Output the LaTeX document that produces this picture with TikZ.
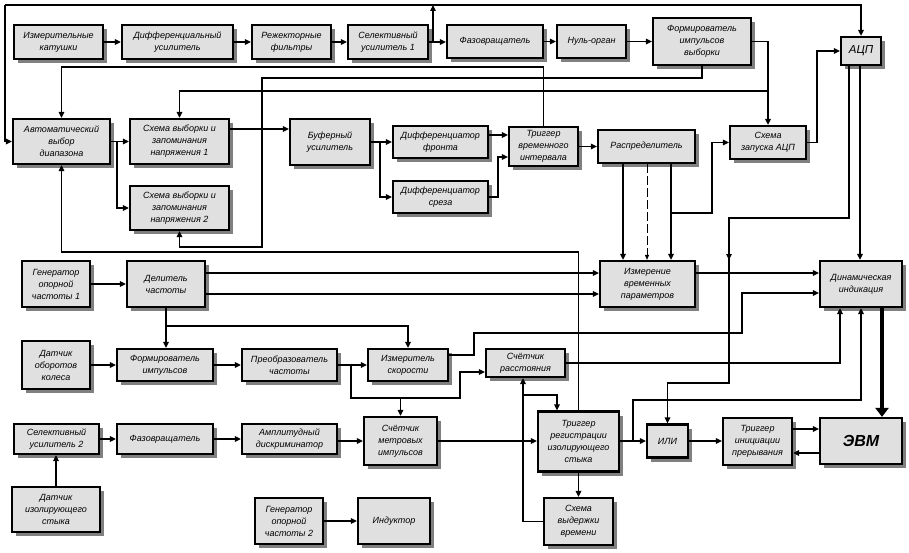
\documentclass[tikz,border=0pt]{standalone}
\usepackage{fontspec}
\setmainfont{Liberation Sans}
\usetikzlibrary{arrows.meta,shadows}
\definecolor{boxfill}{RGB}{224,224,224}
\definecolor{shadowc}{RGB}{128,128,128}
\tikzset{
 blk/.style={draw=black, line width=2.2pt, fill=boxfill, align=center, inner sep=1pt,
   font=\fontsize{9}{12}\selectfont\itshape,
   drop shadow={shadow xshift=4pt, shadow yshift=-4pt, fill=shadowc, opacity=1}},
 arr/.style={line width=1.6pt, -{Triangle[length=6pt,width=5.5pt]}},
 ln/.style={line width=1.6pt},
 dsh/.style={line width=1pt, dash pattern=on 9pt off 3pt, -{Triangle[length=5pt,width=4pt]}},
 thickarr/.style={line width=4pt, -{Triangle[length=9pt,width=13pt]}},
}
\newcommand\mybox[6]{\node[blk, minimum width=#4pt, minimum height=#5pt] (#1) at (#2,#3) {#6};}
\begin{document}
\begin{tikzpicture}[x=1pt,y=-1pt]
\fill[white] (0,0) rectangle (909,553);
\useasboundingbox (0,0) rectangle (909,553);
% row 1
\mybox{ik}{58.5}{42}{89}{34}{Измерительные\\катушки}
\mybox{du}{177.5}{42}{111}{34}{Дифференциальный\\усилитель}
\mybox{rf}{291.5}{42}{79}{34}{Режекторные\\фильтры}
\mybox{sua}{388}{42}{80}{34}{Селективный\\усилитель 1}
\mybox{fva}{495}{41.5}{96}{33}{Фазовращатель}
\mybox{no}{591.5}{41.5}{69}{33}{Нуль-орган}
\mybox{fiv}{702}{41.5}{98}{47}{Формирователь\\импульсов\\выборки}
\node[blk, font=\fontsize{11.5}{13}\selectfont\itshape, minimum width=40pt, minimum height=28pt] (adc) at (861,51) {АЦП};
% row 2
\mybox{avd}{61.5}{141.5}{97}{45}{Автоматический\\выбор\\диапазона}
\mybox{sva}{179.5}{141.5}{99}{45}{Схема выборки и\\запоминания\\напряжения 1}
\mybox{svb}{179.5}{208}{99}{44}{Схема выборки и\\запоминания\\напряжения 2}
\mybox{bu}{330}{142}{80}{46}{Буферный\\усилитель}
\mybox{dfr}{440.5}{142}{95}{32}{Дифференциатор\\фронта}
\mybox{dsr}{440.5}{197}{95}{32}{Дифференциатор\\среза}
\mybox{tvi}{543.5}{146.5}{69}{39}{Триггер\\временного\\интервала}
\mybox{rasp}{646.5}{146.5}{97}{33}{Распределитель}
\mybox{sza}{768}{142.5}{76}{33}{Схема\\запуска АЦП}
% row 3
\mybox{gena}{56}{284}{68}{46}{Генератор\\опорной\\частоты 1}
\mybox{del}{166}{284}{78}{46}{Делитель\\частоты}
\mybox{izm}{647.5}{284}{95}{46}{Измерение\\временных\\параметров}
\mybox{din}{861}{284}{82}{46}{Динамическая\\индикация}
% row 4
\mybox{dok}{56}{365}{68}{48}{Датчик\\оборотов\\колеса}
\mybox{fi}{165}{365}{96}{32}{Формирователь\\импульсов}
\mybox{pch}{289.5}{365}{95}{32}{Преобразователь\\частоты}
\mybox{isk}{408}{365}{80}{32}{Измеритель\\скорости}
\mybox{sr}{525.5}{363}{79}{28}{Счётчик\\расстояния}
% row 5
\mybox{sub}{56.5}{439}{85}{30}{Селективный\\усилитель 2}
\mybox{fvb}{165}{439}{96}{30}{Фазовращатель}
\mybox{ad}{289.5}{439}{95}{30}{Амплитудный\\дискриминатор}
\mybox{smi}{400.5}{441}{73}{48}{Счётчик\\метровых\\импульсов}
\mybox{tri}{578.5}{441.5}{81}{60}{Триггер\\регистрации\\изолирующего\\стыка}
\mybox{ili}{667.5}{441}{41}{33}{ИЛИ}
\mybox{tip}{757.5}{441.5}{69}{47}{Триггер\\инициации\\прерывания}
\node[blk, font=\fontsize{16}{18}\selectfont\bfseries\itshape, minimum width=82pt, minimum height=46pt] (evm) at (861,441) {ЭВМ};
% row 6
\mybox{dis}{56}{509.5}{88}{45}{Датчик\\изолирующего\\стыка}
\mybox{genb}{289}{521}{68}{46}{Генератор\\опорной\\частоты 2}
\mybox{ind}{394}{521}{72}{46}{Индуктор}
\mybox{svv}{578.5}{521.5}{69}{47}{Схема\\выдержки\\времени}
% coordinates
\coordinate (tl) at (5,5);
\coordinate (ja) at (433,42);
\coordinate (jb) at (117,141.5);
\coordinate (jc) at (380,142);
\coordinate (jd) at (671,213);
\coordinate (je) at (166,326);
\coordinate (jf) at (351,365);
\coordinate (jg) at (400.5,398);
\coordinate (jh) at (633,441);
\coordinate (ji) at (523,395);
% row 1 connectors
\draw[arr] (ik) -- (du);
\draw[arr] (du) -- (rf);
\draw[arr] (rf) -- (sua);
\draw[arr] (sua.east) -- (fva.west |- sua.east);
\draw[arr] (fva) -- (no);
\draw[arr] (no) -- (fiv);
\draw[arr] (ja) -- (433,5);
\draw[arr] (tl) |- (avd.west);
\draw[arr] (tl) -| (adc.north);
% feedback lines
\draw[arr] (tvi.north) -- (tvi.north |- 0,67) -- (avd.north |- 0,67) -- (avd.north);
\draw[arr] (fiv.south) -- (fiv.south |- 0,78) -- (262,78) -- (262,247) -- (svb.south |- 0,247) -- (svb.south);
\draw[arr] (fiv.east) -| (sza.north);
\draw[arr] (sza.north |- 0,91) -- (sva.north |- 0,91) -- (sva.north);
\draw[arr] (avd) -- (sva);
\draw[arr] (jb) |- (svb.west);
\draw[arr] (tri.north) -- (tri.north |- 0,252) -- (avd.south |- 0,252) -- (avd.south);
% row 2
\draw[arr] (sva.east |- 0,129) -- (bu.west |- 0,129);
\draw[arr] (bu) -- (dfr);
\draw[arr] (jc) |- (dsr.west);
\draw[arr] (dfr.east |- 0,135) -- (tvi.west |- 0,135);
\draw[arr] (dsr.east) -- (498,197) |- (tvi.west |- 0,157);
\draw[arr] (tvi) -- (rasp);
\draw[arr] (rasp.south -| 623,0) -- (izm.north -| 623,0);
\draw[dsh] (rasp.south -| 647,0) -- (izm.north -| 647,0);
\draw[arr] (rasp.south -| 671,0) -- (izm.north -| 671,0);
\draw[arr] (jd) -- (712,213) |- (sza.west);
\draw[arr] (sza.east) -- (817,142.5) |- (adc.west);
\draw[arr] (adc.south -| 849,0) |- (729,218) -- (729,260);
\draw[arr] (729,258) -- (729,383) -| (ili.north);
\draw[arr] (adc.south -| 860,0) -- (din.north -| 860,0);
% row 3
\draw[arr] (gena) -- (del);
\draw[arr] (del.east |- 0,273) -- (izm.west |- 0,273);
\draw[arr] (del.east |- 0,294) -- (izm.west |- 0,294);
\draw[arr] (izm.east |- 0,273) -- (din.west |- 0,273);
\draw[arr] (isk.east |- 0,355) -- (474,355) -- (474,333) -- (742,333) -- (742,293) -- (din.west |- 0,293);
\draw[arr] (sr.east) -| (din.south -| 840,0);
\draw[arr] (jh) |- (861,400) -- (din.south -| 861,0);
\draw[thickarr] (din.south -| 882,0) -- (evm.north -| 882,0);
% row 4
\draw[arr] (del.south) -- (del.south |- fi.north);
\draw[arr] (je) -| (isk.north);
\draw[arr] (dok) -- (fi);
\draw[arr] (fi) -- (pch);
\draw[arr] (pch) -- (isk);
\draw[arr] (jf) -- (351,398) -- (460,398) |- (sr.west |- 0,372);
\draw[arr] (jg) -- (smi.north);
% row 5
\draw[arr] (sub) -- (fvb);
\draw[arr] (fvb) -- (ad);
\draw[arr] (ad.east |- 0,441) -- (smi.west |- 0,441);
\draw[arr] (smi.east |- 0,441) -- (tri.west |- 0,441);
\draw[arr] (tri.east |- 0,441) -- (ili.west |- 0,441);
\draw[arr] (ili) -- (tip.west |- ili.east);
\draw[arr] (tip.east |- 0,429) -- (evm.west |- 0,429);
\draw[arr] (evm.west |- 0,453) -- (tip.east |- 0,453);
\draw[arr] (dis.north) -- (dis.north |- sub.south);
\draw[arr] (genb) -- (ind);
\draw[arr] (tri.south) -- (svv.north);
\draw[arr] (svv.west) -| (sr.south -| 523,0);
\draw[arr] (ji) -| (tri.north -| 557,0);
\end{tikzpicture}
\end{document}
